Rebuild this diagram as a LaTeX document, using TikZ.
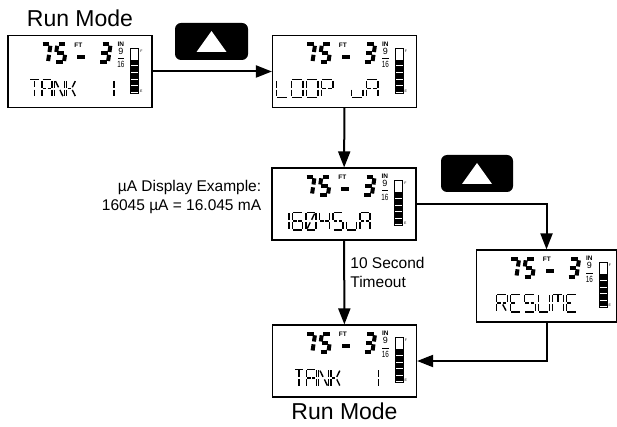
\documentclass[tikz,border=0pt]{standalone}
\usepackage{fontspec}
\usepackage{graphicx}
\setmainfont{Liberation Sans}
\usetikzlibrary{positioning,arrows.meta,calc}

% 14-segment letters, cell 10 x 16, origin at bottom left
\def\SEGa{\draw[seg] (0.9,16) -- (9.1,16);}
\def\SEGd{\draw[seg] (0.9,0) -- (9.1,0);}
\def\SEGf{\draw[seg] (0,15.1) -- (0,8.9);}
\def\SEGe{\draw[seg] (0,7.1) -- (0,0.9);}
\def\SEGb{\draw[seg] (10,15.1) -- (10,8.9);}
\def\SEGc{\draw[seg] (10,7.1) -- (10,0.9);}
\def\SEGg{\draw[seg] (0.9,8) -- (4.3,8);}
\def\SEGh{\draw[seg] (5.7,8) -- (9.1,8);}
\def\SEGi{\draw[seg] (5,15) -- (5,9);}
\def\SEGl{\draw[seg] (5,7) -- (5,1);}
\def\SEGp{\draw[seg] (1.3,14.8) -- (4.3,9.2);}
\def\SEGq{\draw[seg] (8.7,14.8) -- (5.7,9.2);}
\def\SEGr{\draw[seg] (4.3,6.8) -- (1.3,1.2);}
\def\SEGs{\draw[seg] (5.7,6.8) -- (8.7,1.2);}

\newcommand{\defchar}[2]{\expandafter\def\csname CH#1\endcsname{#2}}
\defchar{T}{a,i,l}
\defchar{A}{a,b,c,e,f,g,h}
\defchar{N}{f,e,b,c,p,s}
\defchar{K}{f,e,g,q,s}
\defchar{L}{f,e,d}
\defchar{O}{a,b,c,d,e,f}
\defchar{P}{a,b,f,e,g,h}
\defchar{u}{e,d,c}
\defchar{R}{a,b,f,e,g,h,s}
\defchar{E}{a,f,e,d,g}
\defchar{S}{a,f,g,h,c,d}
\defchar{U}{f,e,d,c,b}
\defchar{M}{a,f,e,b,c,i}
\defchar{0}{a,b,c,d,e,f,q,r}
\defchar{1}{b,c}
\defchar{4}{f,g,h,b,c}
\defchar{5}{a,f,g,h,c,d}
\defchar{6}{a,f,e,d,c,g,h}
\defchar{x}{}

% big 7-segment digits, cell 13 x 22
\def\BIGa{\draw[bigseg] (3.3,20) -- (9.9,20);}
\def\BIGg{\draw[bigseg] (3.3,11) -- (9.9,11);}
\def\BIGd{\draw[bigseg] (3.3,2) -- (9.9,2);}
\def\BIGf{\draw[bigseg] (2,18.6) -- (2,12.4);}
\def\BIGe{\draw[bigseg] (2,9.6) -- (2,3.4);}
\def\BIGb{\draw[bigseg] (11.2,18.6) -- (11.2,12.4);}
\def\BIGc{\draw[bigseg] (11.2,9.6) -- (11.2,3.4);}

\newcommand{\bigdigit}[3]{%
  \begin{scope}[shift={($(#1.north west)+(#2,29.5)$)}, x=1pt, y=1pt, xslant=0.15]
    \foreach \s in {#3} {\csname BIG\s\endcsname}
  \end{scope}}

% node, x offset, pitch, x scale, characters
\newcommand{\lcdtext}[5]{%
  \foreach \ch [count=\n from 0] in {#5} {
    \begin{scope}[shift={($(#1.north west)+(#2+\n*#3,62.5)$)}, x=1pt, y=1pt,
        xscale=#4, yscale=1.1]
      \edef\seglist{\csname CH\ch\endcsname}
      \foreach \s in \seglist {\csname SEG\s\endcsname}
    \end{scope}
  }}

\newcommand{\lcdface}[1]{%
  \bigdigit{#1}{29}{a,b,c}
  \bigdigit{#1}{45}{a,f,g,c,d}
  \bigdigit{#1}{89}{a,b,g,c,d}
  \fill ($(#1.north west)+(70,20)$) rectangle ++(8,4);
  \node[unit] (#1-ft) at ($(#1.north west)+(71,10)$) {FT};
  \node[unit] (#1-in) at ($(#1.north west)+(113.5,9)$) {IN};
  \node[frac] (#1-num) at ($(#1.north west)+(113.5,16.5)$) {9};
  \draw[line width=0.8pt] ($(#1.north west)+(110.5,23.5)$) -- ++(6.5,0);
  \node[frac] (#1-den) at ($(#1.north west)+(113.5,30)$) {\scalebox{0.7}[1]{16}};
  \draw[line width=0.7pt] ($(#1.north west)+(123,13)$) rectangle ++(8,45);
  \foreach \k in {0,...,4}
    \fill ($(#1.north west)+(123,25+\k*6.6)$) rectangle ++(8,5.6);
  \node[tick] (#1-f) at ($(#1.north west)+(134,16)$) {F};
  \node[tick] (#1-e) at ($(#1.north west)+(134,56)$) {E};
}

\begin{document}
\begin{tikzpicture}[x=1pt, y=-1pt,
    lcd/.style={draw, line width=1.2pt, minimum width=144pt, minimum height=72pt, inner sep=0pt},
    upkey/.style={fill=black, rounded corners=6pt, minimum width=73pt, minimum height=37pt, inner sep=0pt},
    flow/.style={line width=2pt, -{Triangle[length=16pt, width=12pt]}},
    title/.style={font=\fontsize{23}{27}\selectfont, inner sep=2pt},
    note/.style={font=\fontsize{15.5}{19}\selectfont, inner sep=0pt},
    unit/.style={font=\bfseries\fontsize{6.5}{7}\selectfont, inner sep=0pt},
    frac/.style={font=\fontsize{9}{9}\selectfont, inner sep=0pt},
    tick/.style={font=\fontsize{3.5}{4}\selectfont, inner sep=0pt},
    seg/.style={line width=1.4pt},
    bigseg/.style={line width=4pt},
]
\useasboundingbox (0,0) rectangle (617,427);

% displays
\node[lcd] (run1) at (80,71.5) {};
\node[lcd] (loop) at (344.5,71.5) {};
\node[lcd] (ua) at (344,204) {};
\node[lcd, minimum width=140pt] (resume) at (546.5,286) {};
\node[lcd] (run2) at (344.5,361) {};

\lcdface{run1}
\lcdface{loop}
\lcdface{ua}
\lcdface{resume}
\lcdface{run2}

\lcdtext{run1}{22}{12.4}{1}{T,A,N,K,x,x,1}
\lcdtext{loop}{4.5}{15}{1.15}{L,O,O,P,x,u,A}
\lcdtext{ua}{7.5}{13.5}{1}{1,6,0,4,5,u,A}
\lcdtext{resume}{20.5}{14}{1.1}{R,E,S,U,M,E}
\lcdtext{run2}{22}{12.4}{1}{T,A,N,K,x,x,1}

% up keys
\node[upkey] (key1) at (211.5,41.5) {};
\fill[white] ($(key1)+(-15,10.5)$) -- ($(key1)+(15,10.5)$) -- ($(key1)+(0,-10.5)$) -- cycle;
\node[upkey, minimum width=72pt] (key2) at (477,173.5) {};
\fill[white] ($(key2)+(-15,10.5)$) -- ($(key2)+(15,10.5)$) -- ($(key2)+(0,-10.5)$) -- cycle;

% labels
\node[title, above=6pt of run1] (mode1) {Run Mode};
\node[title, below=3pt of run2] (mode2) {Run Mode};
\node[note, align=right, left=10pt of ua, yshift=7pt] (example)
    {µA Display Example:\\16045 µA = 16.045 mA};
\node[note, align=left, anchor=west, xshift=6pt] (timeout)
    at ($(ua.south)!0.38!(run2.north)$) {10 Second\\Timeout};

% flow
\draw[flow] (run1) -- (loop);
\draw[flow] (loop) -- (ua);
\draw[flow] (ua) -- (run2);
\draw[flow] (ua.east) -| (resume.north);
\draw[flow] (resume.south) |- (run2.east);

\end{tikzpicture}
\end{document}
